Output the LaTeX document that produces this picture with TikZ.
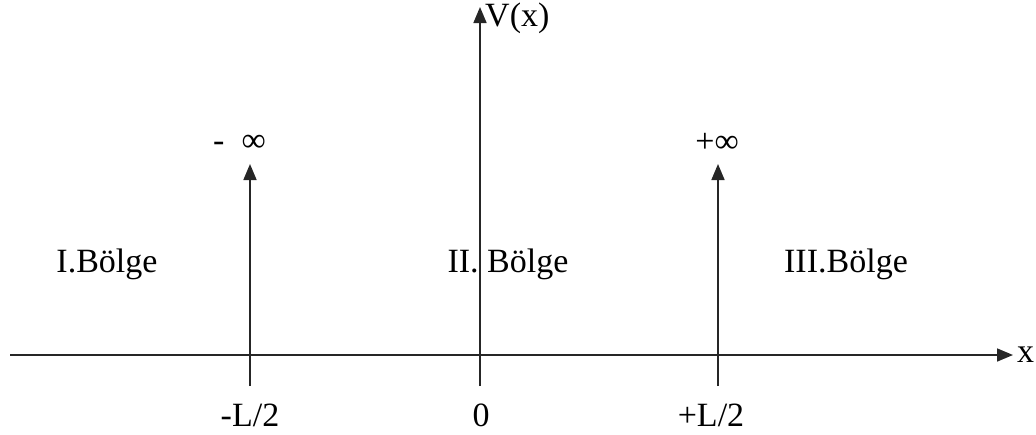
\documentclass[tikz,border=0pt]{standalone}
\usepackage{fontspec}
\setmainfont{Liberation Serif}
\usepackage{tikz}
\usetikzlibrary{arrows.meta, positioning}
\tikzset{
    eksen/.style  = {line width=1.7pt, black!85},
    ok/.style     = {eksen, -{Triangle[length=16pt, width=13pt]}},
    etiket/.style = {font=\fontsize{34}{40}\selectfont, inner sep=0pt},
}

\begin{document}
\begin{tikzpicture}[x=1pt, y=-1pt]
    \useasboundingbox (0,0) rectangle (1036,434);
    % eksenler
    \coordinate (xsol) at (10,355);
    \coordinate (xsag) at (1013,355);
    \coordinate (valt) at (480,386);
    \coordinate (vust) at (480,7);
    \draw[ok] (xsol) -- (xsag);
    \draw[ok] (valt) -- (vust);
    \node[etiket, right=4pt of xsag] (xlab) {x};
    \node[etiket, anchor=west] (vlab) at (485,18) {V(x)};
    % duvarlar
    \coordinate (sola) at (250,386);
    \coordinate (solu) at (250,164);
    \coordinate (saga) at (718,386);
    \coordinate (sagu) at (718,164);
    \draw[ok] (sola) -- (solu);
    \draw[ok] (saga) -- (sagu);
    \node[etiket, anchor=east] (eksi) at (266,143) {-\ \ ∞};
    \node[etiket, anchor=east] (arti) at (739,143) {+∞};
    % bolgeler
    \node[etiket] (b1) at (107,264) {I.Bölge};
    \node[etiket] (b2) at (508,264) {II. Bölge};
    \node[etiket] (b3) at (846,264) {III.Bölge};
    % alt etiketler
    \node[etiket] (lsol) at (250,415) {-L/2};
    \node[etiket] (sifir) at (481,415) {0};
    \node[etiket] (lsag) at (711,415) {+L/2};
\end{tikzpicture}
\end{document}
